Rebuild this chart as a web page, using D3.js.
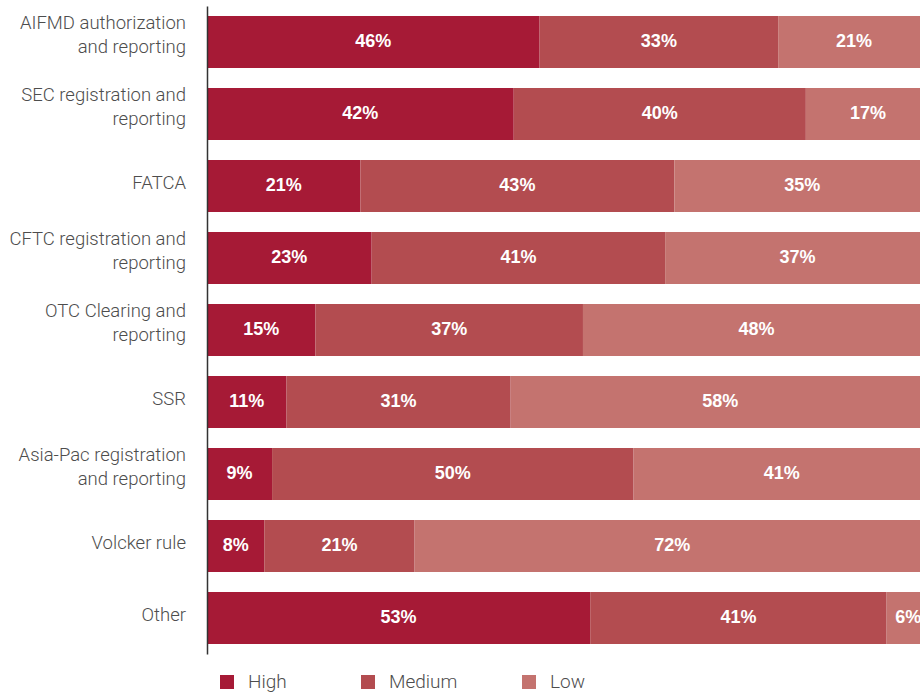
<!DOCTYPE html>
<html><head><meta charset="utf-8">
<script src="https://cdn.jsdelivr.net/npm/d3@7/dist/d3.min.js"></script>
<style>
html,body{margin:0;padding:0;background:#fff;overflow:hidden}
svg{display:block}
text{font-family:"Liberation Sans",Arial,sans-serif}
text.lbl{font-family:Roboto,"Liberation Sans",Arial,sans-serif}
</style></head>
<body>
<svg id="chart" width="920" height="692"></svg>
<script>
const categories = ["AIFMD authorization and reporting","SEC registration and reporting","FATCA","CFTC registration and reporting","OTC Clearing and reporting","SSR","Asia-Pac registration and reporting","Volcker rule","Other"];
const categoryLines = [["AIFMD authorization","and reporting"],["SEC registration and","reporting"],["FATCA"],["CFTC registration and","reporting"],["OTC Clearing and","reporting"],["SSR"],["Asia-Pac registration","and reporting"],["Volcker rule"],["Other"]];
const seriesNames = ["High","Medium","Low"];
const high   = [46,42,21,23,15,11,9,8,53];
const medium = [33,40,43,41,37,31,50,21,41];
const low    = [21,17,35,37,48,58,41,72,6];
const colors = ["#a61a36","#b34c50","#c4736f"];

const rows = categories.map((c,i)=>({category:c, High:high[i], Medium:medium[i], Low:low[i]}));
const stack = d3.stack().keys(seriesNames).offset(d3.stackOffsetExpand);
const layers = stack(rows);

const svg = d3.select("#chart");
const x = d3.scaleLinear().domain([0,1]).range([207,930]);
const y = d3.scaleBand().domain(categories).range([6,654]).paddingInner(20/72).paddingOuter(10/72);
const color = d3.scaleOrdinal().domain(seriesNames).range(colors);

const g = svg.append("g");
layers.forEach(layer=>{
  const lg = g.append("g");
  lg.selectAll("rect").data(layer).join("rect")
    .attr("x",d=>x(d[0])).attr("y",d=>y(d.data.category))
    .attr("width",d=>x(d[1])-x(d[0])).attr("height",y.bandwidth())
    .attr("fill",color(layer.key));
  lg.selectAll("text").data(layer).join("text")
    .attr("x",d=>(x(d[0])+x(d[1]))/2)
    .attr("y",d=>y(d.data.category)+y.bandwidth()/2+5)
    .attr("text-anchor","middle").attr("fill","#fff")
    .attr("font-size",18).attr("font-weight","bold")
    .text(d=>d.data[layer.key]+"%");
});

// axis
const axis = svg.append("g").attr("transform","translate(207,0)")
  .call(d3.axisLeft(y).tickSize(0).tickFormat(""));
axis.select(".domain").attr("stroke","#333").attr("stroke-width",1.5);

// category labels
categories.forEach((c,i)=>{
  const lines = categoryLines[i];
  const cy = y(c)+y.bandwidth()/2;
  const t = svg.append("text").attr("class","lbl").attr("text-anchor","end").attr("fill","#4d4d4d")
    .attr("font-size",18.5).attr("font-weight",300);
  lines.forEach((ln,j)=>{
    const off = lines.length===1 ? 3 : (j===0 ? -13 : 11);
    t.append("tspan").attr("x",186).attr("y",cy+off).text(ln);
  });
});

// legend
const legendX = [220,361,522];
seriesNames.forEach((s,i)=>{
  svg.append("rect").attr("x",legendX[i]).attr("y",675).attr("width",14).attr("height",14).attr("fill",color(s));
  svg.append("text").attr("class","lbl").attr("x",legendX[i]+28).attr("y",687.5).attr("fill","#4d4d4d")
    .attr("font-size",19).attr("font-weight",300).text(s);
});
</script>
</body></html>
